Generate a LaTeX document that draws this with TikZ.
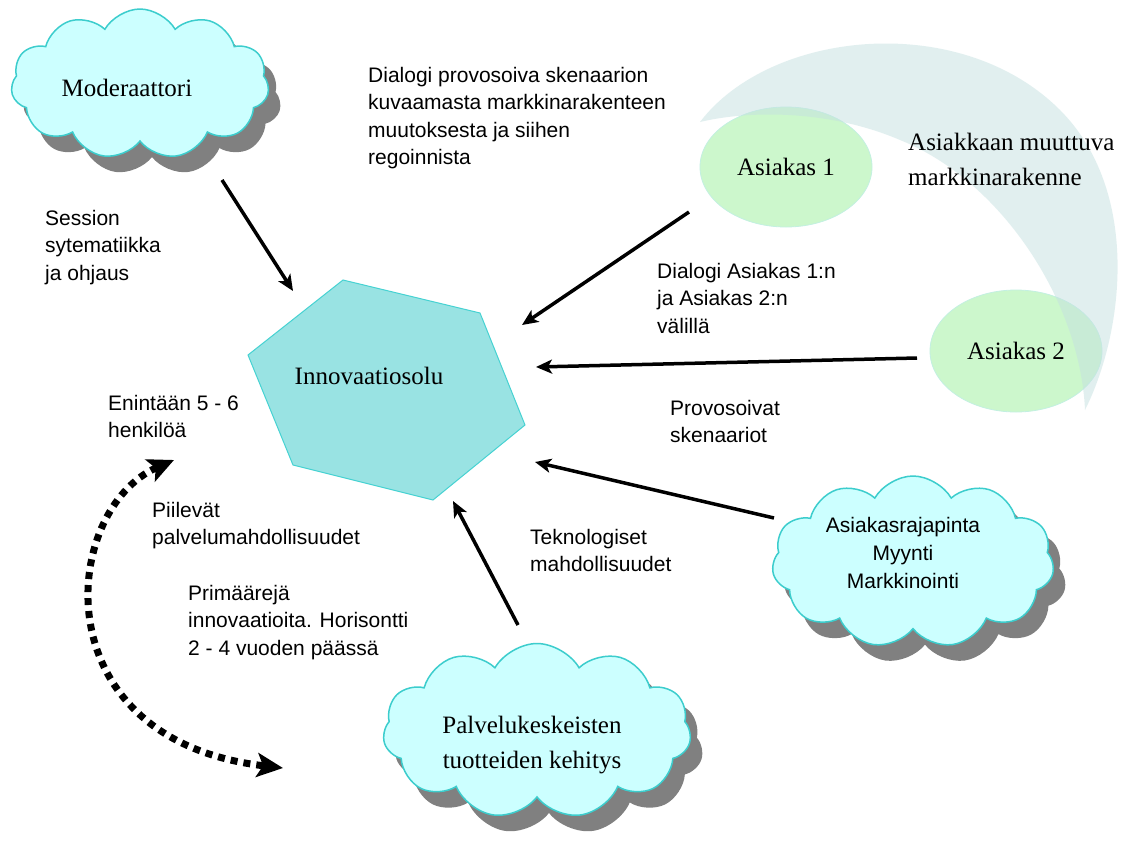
\documentclass[tikz,border=0pt]{standalone}
\usepackage{fontspec}
\setmainfont{Liberation Serif}
\setsansfont{Liberation Sans}
\usetikzlibrary{shapes.symbols,shapes.geometric,shadows,arrows.meta}
\definecolor{cloudfill}{RGB}{204,255,255}
\definecolor{cloudline}{RGB}{60,205,205}
\definecolor{hexfill}{RGB}{153,227,227}
\definecolor{hexline}{RGB}{70,210,210}
\definecolor{ellfill}{RGB}{204,247,204}
\definecolor{ellline}{RGB}{195,240,225}
\definecolor{bandfill}{RGB}{197,225,225}
\definecolor{shadowgray}{RGB}{128,128,128}
\begin{document}
\begin{tikzpicture}[x=1pt,y=-1pt,
  cloudbox/.style={cloud, cloud puffs=11, cloud puff arc=120, cloud ignores aspect,
    draw=cloudline, line width=1.5pt, fill=cloudfill, inner sep=0pt,
    drop shadow={shadow xshift=12pt, shadow yshift=-16pt, fill=shadowgray, opacity=1}},
  ellbox/.style={ellipse, draw=ellline, line width=0.8pt, fill=ellfill, inner sep=0pt,
    font=\fontsize{25}{30}\selectfont},
  srf/.style={inner sep=0pt, font=\fontsize{25}{35}\selectfont},
  lbl/.style={anchor=north west, inner sep=0pt, align=left,
    font=\sffamily\fontsize{21}{27.5}\selectfont},
  arrowline/.style={line width=3.5pt, -{Stealth[length=16pt,width=14pt,inset=4pt]}},
  dotarrow/.style={line width=7pt, dash pattern=on 7pt off 6pt,
    {Stealth[length=26pt,width=24pt,inset=6pt]}-{Stealth[length=26pt,width=24pt,inset=6pt]}}
]
\useasboundingbox (0,0) rectangle (1122,841);
\fill[white] (0,0) rectangle (1122,841);

% ellipses and band
\node[ellbox, minimum width=172pt, minimum height=120pt] (a1) at (786,167) {Asiakas 1};
\node[ellbox, minimum width=172pt, minimum height=122pt] (a2) at (1016,351) {Asiakas 2};
\fill[bandfill, opacity=0.5] (700,122) .. controls (770,30) and (960,10) .. (1060,110)
  .. controls (1140,190) and (1125,330) .. (1085,410)
  .. controls (1080,300) and (1000,180) .. (900,140)
  .. controls (830,110) and (750,110) .. (700,122) -- cycle;
\node[srf, anchor=north west, align=left] (mk) at (908,133) {Asiakkaan muuttuva\\markkinarakenne};

% clouds
\node[cloudbox, minimum width=258pt, minimum height=150pt] (mod) at (140,84) {};
\node[srf] (modt) at (127,88) {Moderaattori};
\node[cloudbox, minimum width=282pt, minimum height=172pt] (ar) at (913,562) {};
\node[inner sep=0pt, align=center, font=\sffamily\fontsize{21}{28}\selectfont] (art) at (903,553)
  {Asiakasrajapinta\\Myynti\\Markkinointi};
\node[cloudbox, minimum width=308pt, minimum height=175pt] (pk) at (537,731) {};
\node[srf, align=center] (pkt) at (532,745) {Palvelukeskeisten\\tuotteiden kehitys};

% hexagon
\draw[hexline, fill=hexfill, line width=1pt] (343,280) -- (480,313) -- (525,425) -- (433,500) -- (293,465) -- (248,355) -- cycle;
\node[srf] (hex) at (369,376) {Innovaatiosolu};

% labels
\node[lbl] (t1) at (368,67) {Dialogi provosoiva skenaarion\\kuvaamasta markkinarakenteen\\muutoksesta ja siihen\\regoinnista};
\node[lbl] (t2) at (45,210) {Session\\sytematiikka\\ja ohjaus};
\node[lbl] (t3) at (657,263) {Dialogi Asiakas 1:n\\ja Asiakas 2:n\\välillä};
\node[lbl] (t4) at (670,400) {Provosoivat\\skenaariot};
\node[lbl] (t5) at (108,395) {Enintään 5 - 6\\henkilöä};
\node[lbl] (t6) at (152,502) {Piilevät\\palvelumahdollisuudet};
\node[lbl] (t7) at (530,529) {Teknologiset\\mahdollisuudet};
\node[lbl] (t8) at (188,585) {Primäärejä\\innovaatioita. Horisontti\\2 - 4 vuoden päässä};

% connector end points
\coordinate (s1) at (222,180); \coordinate (e1) at (293,291);
\coordinate (s2) at (689,212); \coordinate (e2) at (522,325);
\coordinate (s3) at (917,358); \coordinate (e3) at (536,367);
\coordinate (s4) at (774,518); \coordinate (e4) at (535,462);
\coordinate (s5) at (518,625); \coordinate (e5) at (453,501);
\draw[arrowline] (s1) -- (e1);
\draw[arrowline] (s2) -- (e2);
\draw[arrowline] (s3) -- (e3);
\draw[arrowline] (s4) -- (e4);
\draw[arrowline] (s5) -- (e5);

% dotted arc
\coordinate (dtop) at (174,460);
\coordinate (dbot) at (283,768);
\draw[dotarrow] (dtop) .. controls (60,510) and (40,740) .. (dbot);
\end{tikzpicture}
\end{document}
